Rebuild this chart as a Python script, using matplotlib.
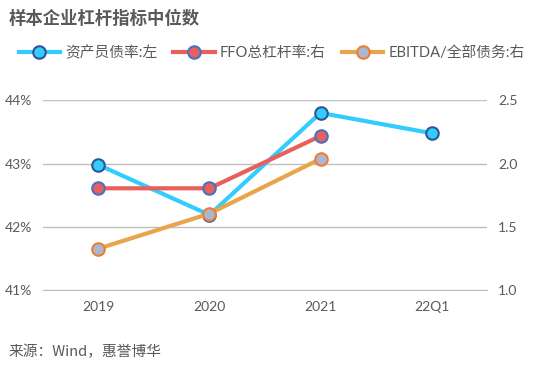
import matplotlib
matplotlib.use("Agg")
import matplotlib.pyplot as plt
from matplotlib.ticker import FuncFormatter

plt.rcParams['font.family'] = ['Lato', 'Noto Sans CJK SC', 'DejaVu Sans']

categories = ['2019', '2020', '2021', '22Q1']
debt_ratio = [42.98, 42.19, 43.80, 43.48]        # 资产员债率 (left, %)
ffo_leverage = [1.805, 1.805, 2.218]              # FFO总杠杆率 (right)
ebitda_debt = [1.329, 1.605, 2.037]               # EBITDA/全部债务 (right)

title = '样本企业杠杆指标中位数'
source = '来源：Wind，惠誉博华'
labels = ['资产员债率:左', 'FFO总杠杆率:右', 'EBITDA/全部债务:右']

gray = '#595959'
fig = plt.figure(figsize=(5.43, 3.70), dpi=100)
ax = fig.add_axes([0.079, 0.2154, 0.818, 0.5137])
ax2 = ax.twinx()

x = list(range(len(categories)))
l1, = ax.plot(x, debt_ratio, color='#33CCFF', lw=3, marker='o', ms=9,
              mfc='#33CCFF', mec='#2F5597', mew=1.5, zorder=3)
l2, = ax2.plot(x[:3], ffo_leverage, color='#E8605A', lw=3, marker='o', ms=9,
               mfc='#E8605A', mec='#4472C4', mew=1.5, zorder=3)
l3, = ax2.plot(x[:3], ebitda_debt, color='#E8A54B', lw=3, marker='o', ms=9,
               mfc='#A9B8D0', mec='#ED7D31', mew=1.5, zorder=3)

ax.set_xlim(-0.5, 3.5)
ax.set_ylim(41, 44)
ax.set_yticks([41, 42, 43, 44])
ax.yaxis.set_major_formatter(FuncFormatter(lambda v, p: f'{v:.0f}%'))
ax2.set_ylim(1.0, 2.5)
ax2.set_yticks([1.0, 1.5, 2.0, 2.5])
ax2.yaxis.set_major_formatter(FuncFormatter(lambda v, p: f'{v:.1f}'))
ax.set_xticks(x)
ax.set_xticklabels(categories)

ax.grid(axis='y', color='#BFBFBF', lw=1)
ax.set_axisbelow(True)
for a in (ax, ax2):
    for s in a.spines.values():
        s.set_visible(False)
    a.tick_params(length=0, colors=gray, labelsize=10)
ax.spines['bottom'].set_visible(True)
ax.spines['bottom'].set_color('#BFBFBF')
ax.tick_params(axis='x', pad=8)
ax.tick_params(axis='y', pad=8)
ax2.tick_params(axis='y', pad=8)

fig.text(0.015, 0.95, title, fontsize=12.5, fontweight='bold', color=gray,
         family=['Noto Sans CJK SC'], va='center')
fig.legend([l1, l2, l3], labels, loc='center left', bbox_to_anchor=(0.01, 0.857),
           ncol=3, frameon=False, labelcolor=gray, handlelength=2.8,
           columnspacing=1.1, handletextpad=0.35,
           prop={'family': ['Lato', 'Noto Sans CJK SC'], 'size': 10.6})
fig.text(0.015, 0.048, source, fontsize=10.6, color=gray, va='center',
         family=['Noto Sans CJK SC', 'Lato'])

fig.savefig('out.png', dpi=100)
